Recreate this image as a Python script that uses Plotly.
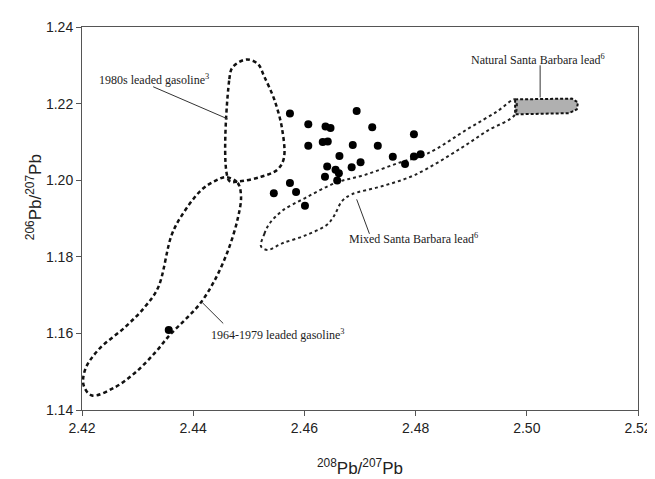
import plotly.graph_objects as go

# Sample data points (208Pb/207Pb, 206Pb/207Pb)
sample_x = [2.4574, 2.4607, 2.4638, 2.4647, 2.4694, 2.4722, 2.4607, 2.4633, 2.4642, 2.4687,
            2.4732, 2.4797, 2.4663, 2.4641, 2.4656, 2.4662, 2.4659, 2.4637, 2.4685, 2.4701,
            2.4759, 2.4781, 2.4797, 2.4809, 2.4574, 2.4545, 2.4585, 2.4601, 2.4356]
sample_y = [1.2174, 1.2146, 1.2140, 1.2136, 1.2181, 1.2138, 1.2090, 1.2100, 1.2101, 1.2092,
            1.2090, 1.2120, 1.2063, 1.2036, 1.2027, 1.2018, 1.1999, 1.2009, 1.2034, 1.2047,
            1.2061, 1.2042, 1.2062, 1.2068, 1.1993, 1.1966, 1.1969, 1.1933, 1.1609]

# Field outlines
g1980_x = [2.4465, 2.4465, 2.4471, 2.4495, 2.4516, 2.4528, 2.4546, 2.4560, 2.4563, 2.4551, 2.4522, 2.4483, 2.4465]
g1980_y = [1.1998, 1.2264, 1.2295, 1.2315, 1.2304, 1.2270, 1.2210, 1.2133, 1.2057, 1.2027, 1.2009, 1.1997, 1.1998]

g1964_x = [2.4459, 2.4480, 2.4486, 2.4480, 2.4462, 2.4438, 2.4412, 2.4385, 2.4358, 2.4331, 2.4296, 2.4260,
           2.4218, 2.4203, 2.4206, 2.4230, 2.4278, 2.4313, 2.4337, 2.4361, 2.4379, 2.4415, 2.4438, 2.4459]
g1964_y = [1.2008, 1.1993, 1.1958, 1.1899, 1.1814, 1.1737, 1.1677, 1.1635, 1.1596, 1.1549, 1.1498, 1.1460,
           1.1438, 1.1464, 1.1507, 1.1558, 1.1617, 1.1669, 1.1720, 1.1856, 1.1907, 1.1975, 1.1997, 1.2008]

mixed_x = [2.4522, 2.4528, 2.4537, 2.4560, 2.4602, 2.4656, 2.4709, 2.4769, 2.4822, 2.4894, 2.4947, 2.4979,
           2.4979, 2.4929, 2.4881, 2.4799, 2.4739, 2.4685, 2.4668, 2.4653, 2.4640, 2.4602, 2.4560, 2.4534, 2.4522]
mixed_y = [1.1827, 1.1860, 1.1886, 1.1920, 1.1954, 1.1993, 1.2014, 1.2045, 1.2070, 1.2134, 1.2180, 1.2211,
           1.2172, 1.2129, 1.2083, 1.2014, 1.1984, 1.1963, 1.1946, 1.1906, 1.1883, 1.1856, 1.1835, 1.1818, 1.1827]

natural_x = [2.4979, 2.5081, 2.5092, 2.5090, 2.5076, 2.4979, 2.4979]
natural_y = [1.2211, 1.2213, 1.2203, 1.2185, 1.2175, 1.2172, 1.2211]

# Labels: text, label position, leader start, leader end
labels = [
    ("1980s leaded gasoline<sup>3</sup>", 2.4330, 1.2262, 2.4328, 1.2244, 2.4462, 1.2160),
    ("1964-1979 leaded gasoline<sup>3</sup>", 2.4552, 1.1597, 2.4416, 1.1681, 2.4454, 1.1626),
    ("Mixed Santa Barbara lead<sup>6</sup>", 2.4796, 1.1848, 2.4694, 1.1950, 2.4717, 1.1860),
    ("Natural Santa Barbara lead<sup>6</sup>", 2.5021, 1.2316, 2.5024, 1.2300, 2.5024, 1.2216),
]

x_ticks = [2.42, 2.44, 2.46, 2.48, 2.50, 2.52]
y_ticks = [1.14, 1.16, 1.18, 1.20, 1.22, 1.24]

fig = go.Figure()

fig.add_trace(go.Scatter(x=natural_x, y=natural_y, mode="lines", fill="toself",
                         fillcolor="#b0b0b0",
                         line=dict(color="#111111", width=2, dash="3px,2px"),
                         hoverinfo="skip"))
fig.add_trace(go.Scatter(x=mixed_x, y=mixed_y, mode="lines",
                         line=dict(color="#222222", width=2, dash="3px,3px"),
                         line_shape="spline", hoverinfo="skip"))
fig.add_trace(go.Scatter(x=g1980_x, y=g1980_y, mode="lines",
                         line=dict(color="#111111", width=2.5, dash="4px,3px"),
                         line_shape="spline", hoverinfo="skip"))
fig.add_trace(go.Scatter(x=g1964_x, y=g1964_y, mode="lines",
                         line=dict(color="#111111", width=2.5, dash="4px,3px"),
                         line_shape="spline", hoverinfo="skip"))
fig.add_trace(go.Scatter(x=sample_x, y=sample_y, mode="markers",
                         marker=dict(color="black", size=8, symbol="circle")))

for text, tx, ty, x0, y0, x1, y1 in labels:
    fig.add_shape(type="line", x0=x0, y0=y0, x1=x1, y1=y1, xref="x", yref="y",
                  line=dict(color="#333333", width=1))
    fig.add_annotation(x=tx, y=ty, text=text, showarrow=False, xref="x", yref="y",
                       font=dict(family="Liberation Serif", size=12, color="#222222"))

fig.add_annotation(xref="paper", yref="paper", x=-0.085, y=0.555,
                   xanchor="center", yanchor="middle",
                   text="<sup>206</sup>Pb/<sup>207</sup>Pb", showarrow=False, textangle=-90,
                   font=dict(family="Liberation Sans", size=17, color="#222222"))

fig.update_layout(
    width=655, height=479,
    margin=dict(l=74, r=24, t=11, b=77),
    plot_bgcolor="white", paper_bgcolor="white",
    showlegend=False,
    font=dict(family="Liberation Sans", color="#222222"),
)
fig.update_xaxes(range=[2.42, 2.52], tickvals=x_ticks, ticktext=[f"{v:.2f}" for v in x_ticks],
                 showgrid=False, zeroline=False, showline=True, linecolor="#555555", linewidth=1,
                 mirror=True, ticks="outside", ticklen=5, tickcolor="#555555",
                 tickfont=dict(family="Liberation Sans", size=14, color="#222222"),
                 title=dict(text="<sup>208</sup>Pb/<sup>207</sup>Pb", standoff=27,
                            font=dict(family="Liberation Sans", size=17, color="#222222")))
fig.update_yaxes(range=[1.14, 1.24], tickvals=y_ticks, ticktext=[f"{v:.2f}" for v in y_ticks],
                 showgrid=False, zeroline=False, showline=True, linecolor="#555555", linewidth=1,
                 mirror=True, ticks="outside", ticklen=5, tickcolor="#555555",
                 tickfont=dict(family="Liberation Sans", size=14, color="#222222"))

fig.write_html("out.html")
